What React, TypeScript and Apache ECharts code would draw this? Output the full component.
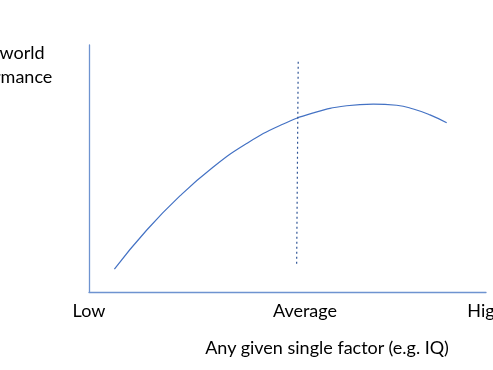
import React, { useEffect, useRef } from "react";
import * as echarts from "echarts";

// Curve: performance vs. any single factor (x: 0 = Low, 100 = High)
const curveX = [6.4, 14.5, 22.9, 31.3, 39.7, 48.1, 56.5, 64.9, 71.6, 77.5, 81.7, 85.9, 90.1];
const curveY = [9.3, 25.0, 38.9, 50.6, 60.1, 67.4, 72.5, 75.4, 76.1, 75.6, 74.1, 71.7, 68.5];

// Dashed "average" marker line
const avgLineX = [52.7, 52.3];
const avgLineY = [93.2, 10.2];

// Tick labels
const xTickValues = [0, 54.4, 100];
const xTickLabels = ["Low", "Average", "High"];

const xAxisTitle = "Any given single factor (e.g. IQ)";
const yAxisTitle = "Real-world\nperformance";

const FONT = "Lato";

export default function App() {
  const ref = useRef<HTMLDivElement>(null);
  useEffect(() => {
    if (!ref.current) return;
    const chart = echarts.init(ref.current, null, { renderer: "svg" });
    const labelMap: Record<string, string> = {};
    xTickValues.forEach((v, i) => (labelMap[String(v)] = xTickLabels[i]));
    chart.setOption({
      animation: false,
      grid: { left: 89, right: 7, top: 45, bottom: 78, outerBoundsMode: "none", containLabel: false },
      xAxis: {
        type: "value",
        min: 0,
        max: 100,
        splitLine: { show: false },
        axisTick: { show: false },
        axisLine: { show: true, lineStyle: { color: "#6E93D0", width: 1.3 } },
        axisLabel: {
          customValues: xTickValues,
          formatter: (v: number) => labelMap[String(v)] ?? "",
          color: "#000",
          fontFamily: FONT,
          fontSize: 18,
          margin: 9,
          showMinLabel: true,
          showMaxLabel: true,
          hideOverlap: false,
        },
      },
      yAxis: {
        type: "value",
        min: 0,
        max: 100,
        splitLine: { show: false },
        axisTick: { show: false },
        axisLabel: { show: false },
        axisLine: { show: true, lineStyle: { color: "#6E93D0", width: 1.3 } },
      },
      graphic: [
        {
          type: "text",
          x: 2,
          y: 40,
          style: {
            text: yAxisTitle,
            fill: "#000",
            fontFamily: FONT,
            fontSize: 18,
            lineHeight: 24,
            align: "center",
            verticalAlign: "top",
          },
        },
        {
          type: "text",
          x: 327,
          y: 338,
          style: {
            text: xAxisTitle,
            fill: "#000",
            fontFamily: FONT,
            fontSize: 18,
            align: "center",
            verticalAlign: "top",
          },
        },
      ],
      series: [
        {
          type: "line",
          data: curveX.map((x, i) => [x, curveY[i]]),
          smooth: 0.5,
          symbol: "none",
          lineStyle: { color: "#4472C4", width: 1.2 },
        },
        {
          type: "line",
          data: avgLineX.map((x, i) => [x, avgLineY[i]]),
          symbol: "none",
          lineStyle: { color: "#2F5597", width: 1.2, type: [2, 3] },
        },
      ],
    });
    return () => chart.dispose();
  }, []);
  return (
    <div
      ref={ref}
      style={{ position: "fixed", left: 0, top: 0, width: 493, height: 370 }}
    />
  );
}
